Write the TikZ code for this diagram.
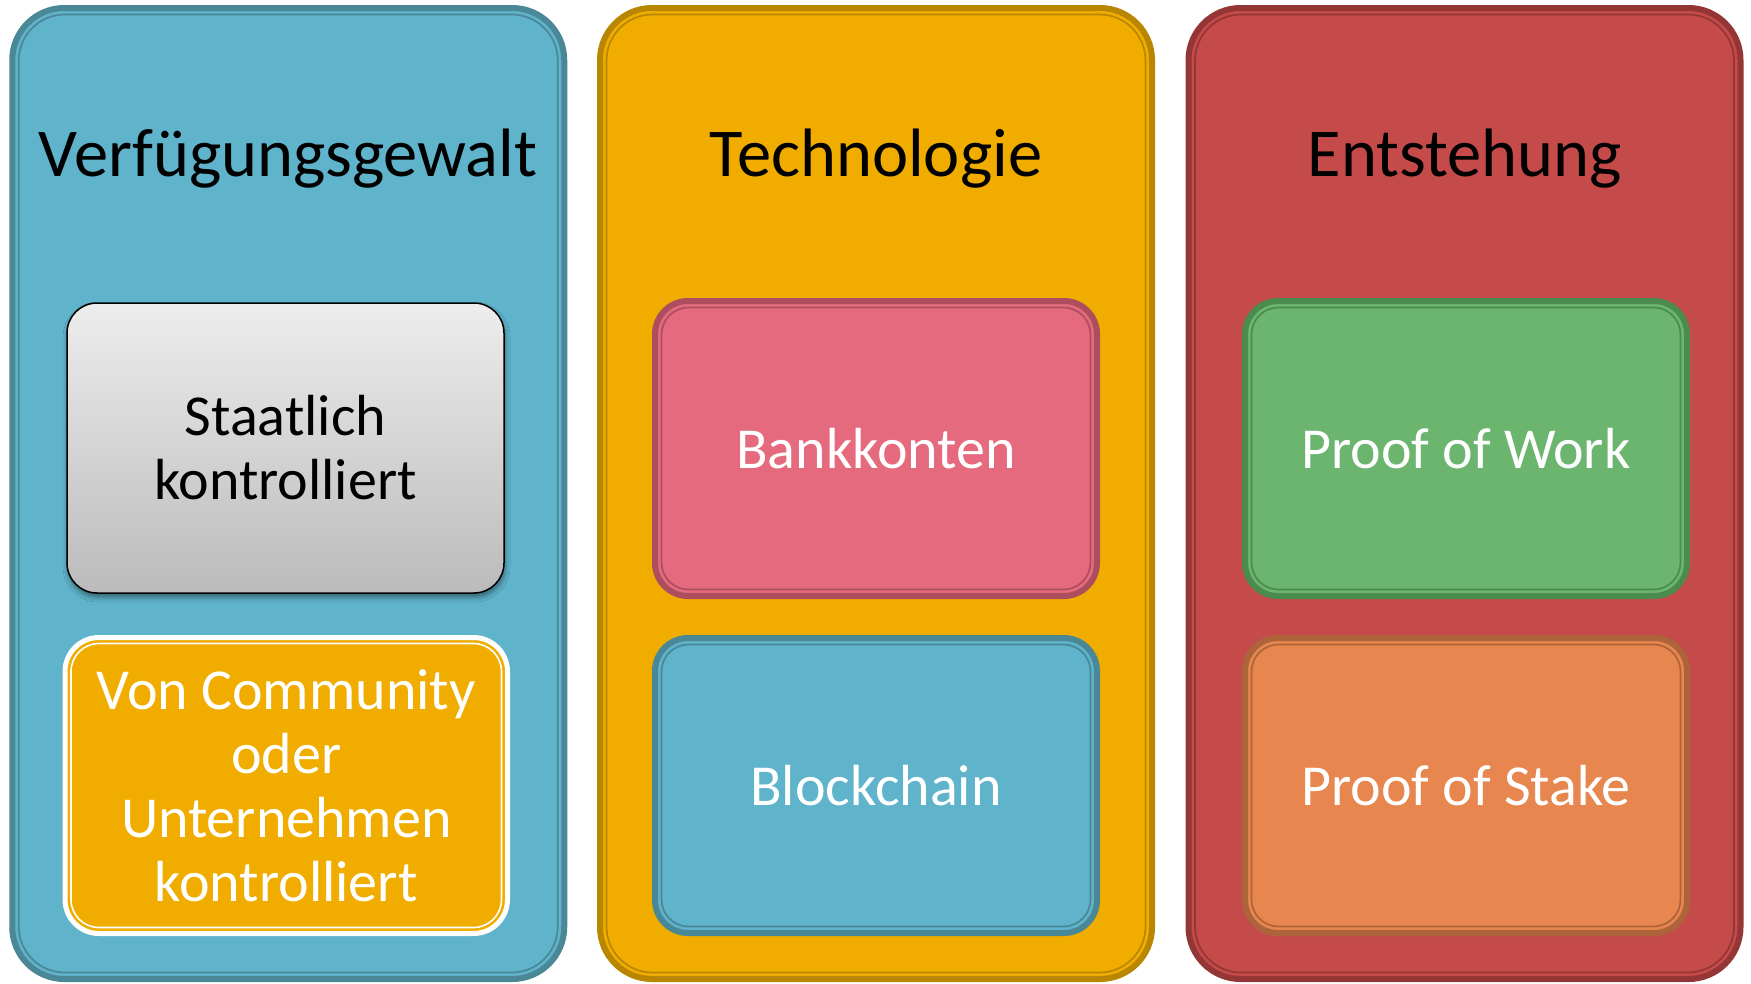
\documentclass[tikz,border=0pt]{standalone}
\usepackage{fontspec}
\setmainfont{Carlito}
\usetikzlibrary{shadows.blur}
\definecolor{bluefill}{HTML}{5FB3CA}
\definecolor{blueline}{HTML}{4A8797}
\definecolor{orfill}{HTML}{F0AD00}
\definecolor{orline}{HTML}{B88600}
\definecolor{redfill}{HTML}{C54A4A}
\definecolor{redline}{HTML}{943636}
\definecolor{pinkfill}{HTML}{E66A7D}
\definecolor{pinkline}{HTML}{AD4E5E}
\definecolor{greenfill}{HTML}{6BB56E}
\definecolor{greenline}{HTML}{4C8B4F}
\definecolor{orangefill}{HTML}{E8864F}
\definecolor{orangeline}{HTML}{AE643B}
\definecolor{graytop}{HTML}{EDEDED}
\definecolor{graybot}{HTML}{BBBBBB}
\tikzset{
  x=1pt,y=-1pt,
  panel/.style={rounded corners=52pt, line width=6pt, outer sep=0pt, inner sep=0pt,
    minimum width=552pt, minimum height=971pt},
  inbox/.style={rounded corners=33pt, line width=6pt, outer sep=0pt, inner sep=0pt,
    minimum width=442pt, minimum height=295pt, text=white,
    font=\fontsize{58}{64}\selectfont, align=center},
  title/.style={anchor=base, font=\fontsize{68.5}{72}\selectfont, text=black},
}
\newcommand{\innerline}[3]{% node, color, radius
  \draw[#2, line width=1.7pt, rounded corners=#3]
    ([shift={(6.5,6.5)}]#1.north west) rectangle ([shift={(-6.5,-6.5)}]#1.south east);}
\begin{document}
\begin{tikzpicture}
\useasboundingbox (0,0) rectangle (1751,983);
% panels
\node[panel, fill=bluefill, draw=blueline] (p1) at (288.25,493.5) {};
\node[panel, fill=orfill, draw=orline] (p2) at (876,493.5) {};
\node[panel, fill=redfill, draw=redline] (p3) at (1464.5,493.5) {};
\innerline{p1}{blueline}{46pt}
\innerline{p2}{orline}{46pt}
\innerline{p3}{redline}{46pt}
% titles
\node[title] (t1) at (288,176) {Verfügungsgewalt};
\node[title] (t2) at (876,176) {Technologie};
\node[title] (t3) at (1465,176) {Entstehung};
% gray box
\node[rounded corners=30pt, draw=black, line width=1.5pt, top color=graytop, bottom color=graybot,
  minimum width=437pt, minimum height=290pt, inner sep=0pt, outer sep=0pt, align=center,
  font=\fontsize{58}{64}\selectfont, text=black,
  blur shadow={shadow xshift=1pt, shadow yshift=-4pt, shadow blur radius=5pt, shadow opacity=45}]
  (b1) at (285.5,448) {Staatlich\\kontrolliert};
% yellow box
\node[inbox, fill=orfill, draw=white, line width=5pt, minimum width=442.5pt, minimum height=296pt,
  rounded corners=34pt] (b2) at (286.25,785.5) {Von Community\\oder\\Unternehmen\\kontrolliert};
\draw[white, line width=1.6pt, rounded corners=28pt]
  ([shift={(6,6)}]b2.north west) rectangle ([shift={(-6,-6)}]b2.south east);
% middle
\node[inbox, fill=pinkfill, draw=pinkline] (b3) at (876,448.5) {Bankkonten};
\innerline{b3}{pinkline}{27pt}
\node[inbox, fill=bluefill, draw=blueline] (b4) at (876,785.5) {Blockchain};
\innerline{b4}{blueline}{27pt}
% right
\node[inbox, fill=greenfill, draw=greenline] (b5) at (1466,448.5) {Proof of Work};
\innerline{b5}{greenline}{27pt}
\node[inbox, fill=orangefill, draw=orangeline] (b6) at (1466,785.5) {Proof of Stake};
\innerline{b6}{orangeline}{27pt}
\end{tikzpicture}
\end{document}
